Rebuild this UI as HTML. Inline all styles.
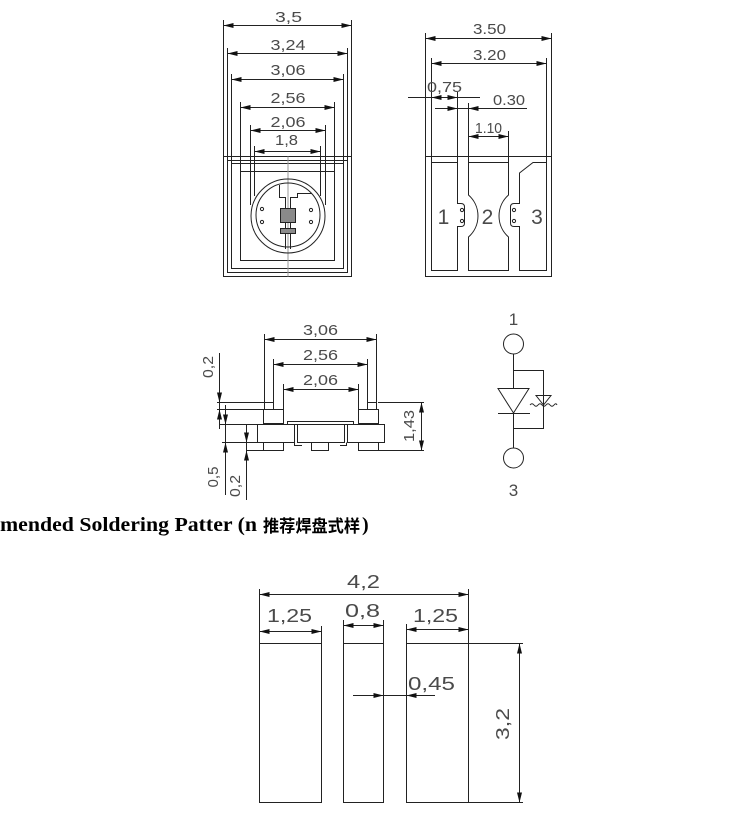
<!DOCTYPE html>
<html><head><meta charset="utf-8"><style>
html,body{margin:0;padding:0;background:#fff;}
svg{display:block}
.d{font-family:"Liberation Sans",sans-serif;font-size:15px;fill:#4a4a4a;}
.b{font-family:"Liberation Sans",sans-serif;font-size:18px;fill:#4a4a4a;}
</style></head><body>
<svg width="752" height="819" viewBox="0 0 752 819" xmlns="http://www.w3.org/2000/svg">
<g stroke="#222" stroke-width="1" fill="none">
<!-- ===== Top-left package ===== -->
<path d="M223.5 20V156.5M351.5 20V156.5M227.5 48V160.5M347.5 48V160.5M231.5 74V163.5M343.5 74V163.5M240.5 102V171.5M334.5 102V171.5M250.5 125V205M325.5 125V205M254.5 146V196M320.5 146V196"/>
<path d="M223.5 25.5H351.5M227.5 53.5H347.5M231.5 79.5H343.5M240.5 107.5H334.5M250.5 130.5H325.5M254.5 151.5H320.5"/>
<rect x="223.5" y="156.5" width="128" height="120"/>
<rect x="227.5" y="160.5" width="120" height="112"/>
<rect x="231.5" y="163.5" width="112" height="105"/>
<rect x="240.5" y="171.5" width="94" height="89"/>
<path d="M288 156.5V276.5" stroke="#999"/>
<circle cx="288" cy="216" r="37"/>
<circle cx="288" cy="215" r="32"/>
<path d="M279.5 185V197.5H285.5V249M290.5 249V197.5H297.5V193.5H312"/>
<rect x="280.5" y="208.5" width="15" height="14" fill="#8a8a8a"/>
<rect x="280.5" y="228.5" width="15" height="5" fill="#8a8a8a"/>
<circle cx="262" cy="209" r="1.6"/><circle cx="262" cy="222" r="1.6"/>
<circle cx="311" cy="210" r="1.6"/><circle cx="311" cy="222" r="1.6"/>

<!-- ===== Top-right package ===== -->
<path d="M425.5 33V156.5M551.5 33V156.5M431.5 58V162.5M546.5 58V162.5M457.5 92V162.5M468.5 103V162.5M508.5 131V162.5"/>
<path d="M425.5 38.5H551.5M431.5 63.5H546.5M408 97.5H480M435 108.5H527M468.5 136.5H508.5"/>
<rect x="425.5" y="156.5" width="126" height="120"/>
<path d="M431.5 162.5H457.5V203.5H461Q464.5 203.5 464.5 207V223Q464.5 226.5 461 226.5H457.5V270.5H431.5Z"/>
<path d="M468.5 162.5H508.5V195A28 28 0 0 0 508.5 237V270.5H468.5V237A28 28 0 0 0 468.5 195Z"/>
<path d="M519.5 173L533 162.5H546.5V270.5H519.5V226.5H514Q510.5 226.5 510.5 223V207Q510.5 203.5 514 203.5H519.5Z"/>
<circle cx="462" cy="210" r="1.6"/><circle cx="462" cy="221" r="1.6"/>
<circle cx="514" cy="210" r="1.6"/><circle cx="514" cy="221" r="1.6"/>

<!-- ===== Side view ===== -->
<path d="M264.5 334V402M376.5 334V402M273.5 359V402M367.5 359V402M283.5 384V422M358.5 384V409"/>
<path d="M264.5 339.5H376.5M273.5 364.5H367.5M283.5 389.5H358.5"/>
<rect x="264.5" y="402.5" width="9" height="7"/>
<rect x="263.5" y="409.5" width="20" height="14"/>
<rect x="257.5" y="424.5" width="37" height="18"/>
<rect x="263.5" y="442.5" width="20" height="8"/>
<rect x="367.5" y="402.5" width="9" height="7"/>
<rect x="358.5" y="409.5" width="20" height="14"/>
<rect x="347.5" y="424.5" width="37" height="18"/>
<rect x="358.5" y="442.5" width="20" height="8"/>
<rect x="287.5" y="421.5" width="66" height="3"/>
<rect x="297.5" y="424.5" width="47" height="18"/>
<rect x="311.5" y="442.5" width="17" height="8"/>
<path d="M294.5 442.5V445.5H302M346.5 442.5V445.5H340"/>
<!-- left dims -->
<path d="M217 402.5H264M217 409.5H263M220 424.5H257M222 442.5H257M247 450.5H263"/>
<path d="M219.5 353V429M225.5 405V495M246.5 425V500"/>
<!-- right 1.43 -->
<path d="M378 402.5H424M378 450.5H424M421.5 402.5V450.5"/>

<!-- ===== Schematic ===== -->
<circle cx="513.5" cy="344" r="10"/>
<circle cx="513.5" cy="458" r="10"/>
<path d="M513.5 354V388M513.5 413V448M513.5 370.5H543.5V428.5H513.5"/>
<path d="M498 388.5H529L513.5 413Z"/>
<path d="M498 413.5H530"/>
<path d="M536 395.5H551L543.5 405Z"/>
<path d="M530 405q2 -2.5 4 0t4 0t4 0t4 0t4 0t4 0t3 0"/>

<!-- ===== Bottom pattern ===== -->
<rect x="259.5" y="643.5" width="62" height="159"/>
<rect x="343.5" y="643.5" width="40" height="159"/>
<rect x="406.5" y="643.5" width="62" height="159"/>
<path d="M259.5 589V643.5M468.5 589V643.5M321.5 626V643.5M343.5 620V643.5M383.5 620V643.5M406.5 624V643.5"/>
<path d="M259.5 594.5H468.5M259.5 631.5H321.5M343.5 625.5H383.5M406.5 629.5H468.5"/>
<path d="M468.5 643.5H523M468.5 802.5H523M519.5 643.5V802.5M353 695.5H435"/>
</g>

<g fill="#111" stroke="none">
<polygon points="223.5,25.5 233.5,23 233.5,28"/><polygon points="351.5,25.5 341.5,23 341.5,28"/>
<polygon points="227.5,53.5 237.5,51 237.5,56"/><polygon points="347.5,53.5 337.5,51 337.5,56"/>
<polygon points="231.5,79.5 241.5,77 241.5,82"/><polygon points="343.5,79.5 333.5,77 333.5,82"/>
<polygon points="240.5,107.5 250.5,105 250.5,110"/><polygon points="334.5,107.5 324.5,105 324.5,110"/>
<polygon points="250.5,130.5 260.5,128 260.5,133"/><polygon points="325.5,130.5 315.5,128 315.5,133"/>
<polygon points="254.5,151.5 264.5,149 264.5,154"/><polygon points="320.5,151.5 310.5,149 310.5,154"/>
<polygon points="425.5,38.5 435.5,36 435.5,41"/><polygon points="551.5,38.5 541.5,36 541.5,41"/>
<polygon points="431.5,63.5 441.5,61 441.5,66"/><polygon points="546.5,63.5 536.5,61 536.5,66"/>
<polygon points="431.5,97.5 441.5,95 441.5,100"/><polygon points="457.5,97.5 447.5,95 447.5,100"/>
<polygon points="457.5,108.5 447.5,106 447.5,111"/><polygon points="468.5,108.5 478.5,106 478.5,111"/>
<polygon points="468.5,136.5 478.5,134 478.5,139"/><polygon points="508.5,136.5 498.5,134 498.5,139"/>
<polygon points="264.5,339.5 274.5,337 274.5,342"/><polygon points="376.5,339.5 366.5,337 366.5,342"/>
<polygon points="273.5,364.5 283.5,362 283.5,367"/><polygon points="367.5,364.5 357.5,362 357.5,367"/>
<polygon points="283.5,389.5 293.5,387 293.5,392"/><polygon points="358.5,389.5 348.5,387 348.5,392"/>
<polygon points="219.5,402.5 217,392.5 222,392.5"/><polygon points="219.5,409.5 217,419.5 222,419.5"/>
<polygon points="225.5,424.5 223,414.5 228,414.5"/><polygon points="225.5,442.5 223,452.5 228,452.5"/>
<polygon points="246.5,442.5 244,432.5 249,432.5"/><polygon points="246.5,450.5 244,460.5 249,460.5"/>
<polygon points="421.5,402.5 419,412.5 424,412.5"/><polygon points="421.5,450.5 419,440.5 424,440.5"/>
<polygon points="259.5,594.5 269.5,592 269.5,597"/><polygon points="468.5,594.5 458.5,592 458.5,597"/>
<polygon points="259.5,631.5 269.5,629 269.5,634"/><polygon points="321.5,631.5 311.5,629 311.5,634"/>
<polygon points="343.5,625.5 353.5,623 353.5,628"/><polygon points="383.5,625.5 373.5,623 373.5,628"/>
<polygon points="406.5,629.5 416.5,627 416.5,632"/><polygon points="468.5,629.5 458.5,627 458.5,632"/>
<polygon points="519.5,643.5 517,653.5 522,653.5"/><polygon points="519.5,802.5 517,792.5 522,792.5"/>
<polygon points="383.5,695.5 373.5,693 373.5,698"/><polygon points="406.5,695.5 416.5,693 416.5,698"/>
</g>

<g class="d" text-anchor="middle">
<text x="288.5" y="22" textLength="27" lengthAdjust="spacingAndGlyphs">3,5</text>
<text x="288" y="50" textLength="35" lengthAdjust="spacingAndGlyphs">3,24</text>
<text x="288" y="75" textLength="35" lengthAdjust="spacingAndGlyphs">3,06</text>
<text x="288" y="103" textLength="35" lengthAdjust="spacingAndGlyphs">2,56</text>
<text x="288" y="127" textLength="35" lengthAdjust="spacingAndGlyphs">2,06</text>
<text x="286.5" y="145" textLength="23" lengthAdjust="spacingAndGlyphs">1,8</text>
<text x="489.5" y="34" textLength="33" lengthAdjust="spacingAndGlyphs">3.50</text>
<text x="489.5" y="60" textLength="33" lengthAdjust="spacingAndGlyphs">3.20</text>
<text x="444.5" y="92" textLength="35" lengthAdjust="spacingAndGlyphs">0,75</text>
<text x="509" y="105" textLength="32" lengthAdjust="spacingAndGlyphs">0.30</text>
<text x="488.5" y="133" textLength="27" lengthAdjust="spacingAndGlyphs">1.10</text>
<text x="320.5" y="335" textLength="35" lengthAdjust="spacingAndGlyphs">3,06</text>
<text x="320.5" y="360" textLength="35" lengthAdjust="spacingAndGlyphs">2,56</text>
<text x="320.5" y="385" textLength="35" lengthAdjust="spacingAndGlyphs">2,06</text>
<text transform="translate(208,367) rotate(-90)" y="5" textLength="22" lengthAdjust="spacingAndGlyphs">0,2</text>
<text transform="translate(213,477) rotate(-90)" y="5" textLength="21" lengthAdjust="spacingAndGlyphs">0,5</text>
<text transform="translate(235,486) rotate(-90)" y="5" textLength="22" lengthAdjust="spacingAndGlyphs">0,2</text>
<text transform="translate(409,426) rotate(-90)" y="5" textLength="32" lengthAdjust="spacingAndGlyphs">1,43</text>
</g>
<g font-family="Liberation Sans, sans-serif" font-size="21" fill="#4a4a4a" text-anchor="middle">
<text x="443.5" y="224">1</text>
<text x="487.5" y="224">2</text>
<text x="537" y="224">3</text>
</g>
<g font-family="Liberation Sans, sans-serif" font-size="17" fill="#4a4a4a" text-anchor="middle">
<text x="513.5" y="325">1</text>
<text x="513.5" y="496">3</text>
</g>
<g class="b" text-anchor="middle">
<text x="363.5" y="588" textLength="33" lengthAdjust="spacingAndGlyphs">4,2</text>
<text x="289.5" y="622" textLength="45" lengthAdjust="spacingAndGlyphs">1,25</text>
<text x="362.5" y="617" textLength="35" lengthAdjust="spacingAndGlyphs">0,8</text>
<text x="435.5" y="622" textLength="45" lengthAdjust="spacingAndGlyphs">1,25</text>
<text x="431.5" y="690" textLength="47" lengthAdjust="spacingAndGlyphs">0,45</text>
<text transform="translate(503,724) rotate(-90)" y="6" textLength="32" lengthAdjust="spacingAndGlyphs">3,2</text>
</g>

<text x="0" y="531" font-family="Liberation Serif, serif" font-weight="bold" font-size="20" fill="#000" textLength="257" lengthAdjust="spacingAndGlyphs">mended Soldering Patter (n</text>
<text x="263" y="532" font-family="Liberation Sans, 'Noto Sans CJK SC', sans-serif" font-size="17" font-weight="bold" fill="#000" textLength="97" lengthAdjust="spacingAndGlyphs">推荐焊盘式样</text>
<text x="362" y="531" font-family="Liberation Serif, serif" font-weight="bold" font-size="20" fill="#000">)</text>
</svg>
</body></html>
